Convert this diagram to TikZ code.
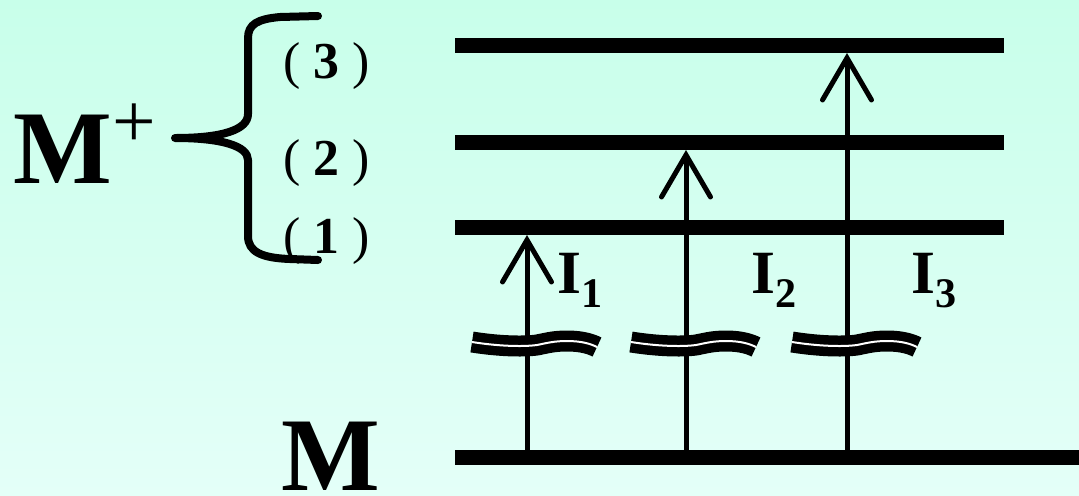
\documentclass[tikz,border=0pt]{standalone}
\usepackage{fontspec}
\setmainfont{Liberation Serif}
\usetikzlibrary{arrows.meta}
\definecolor{bgtop}{RGB}{200,255,234}
\definecolor{bgbottom}{RGB}{228,255,248}

\begin{document}
\begin{tikzpicture}[x=0.02cm, y=-0.02cm]
        % Define styles
        \tikzstyle{level} = [line width=0.3cm]
        \tikzstyle{arrow} = [line width=0.1cm, -{Straight Barb[length=0.84cm, width=0.98cm, line cap=round]}]
        \tikzstyle{brk} = [line width=0.19cm, double=white, double distance=0.04cm]
        \tikzstyle{brace} = [line width=0.16cm, line cap=round, line join=round]
        \tikzstyle{lbl} = [inner sep=0pt, anchor=base west]

        % Background
        \useasboundingbox (0,0) rectangle (1079,495);
        \shade [top color=bgtop, bottom color=bgbottom] (0,0) rectangle (1079,495);

        % Levels
        \coordinate (l3w) at (455,45);  \coordinate (l3e) at (1004,45);
        \coordinate (l2w) at (455,142); \coordinate (l2e) at (1004,142);
        \coordinate (l1w) at (455,227); \coordinate (l1e) at (1004,227);
        \coordinate (l0w) at (455,457); \coordinate (l0e) at (1079,457);
        \draw [level] (l3w) -- (l3e);
        \draw [level] (l2w) -- (l2e);
        \draw [level] (l1w) -- (l1e);
        \draw [level] (l0w) -- (l0e);

        % Nodes
        \node (mplus) [lbl] at (13,183) {\fontsize{59.5}{60}\selectfont\bfseries M\raisebox{20pt}{\fontsize{44}{44}\selectfont\mdseries +}};
        \node (mground) [lbl] at (281,490) {\fontsize{59.5}{60}\selectfont\bfseries M};
        \node (p3) [lbl] at (283,78) {\fontsize{29.5}{30}\selectfont ( {\bfseries 3} )};
        \node (p2) [lbl] at (283,175) {\fontsize{29.5}{30}\selectfont ( {\bfseries 2} )};
        \node (p1) [lbl] at (283,253) {\fontsize{29.5}{30}\selectfont ( {\bfseries 1} )};
        \node (i1) [lbl] at (557,293) {\fontsize{35}{35}\selectfont\bfseries I\raisebox{-8.5pt}{\fontsize{24}{24}\selectfont 1}};
        \node (i2) [lbl] at (751,293) {\fontsize{35}{35}\selectfont\bfseries I\raisebox{-8.5pt}{\fontsize{24}{24}\selectfont 2}};
        \node (i3) [lbl] at (911,293) {\fontsize{35}{35}\selectfont\bfseries I\raisebox{-8.5pt}{\fontsize{24}{24}\selectfont 3}};

        % Brace
        \draw [brace] (318,16) -- (280,17) .. controls (258,19) and (248,24) .. (248,38) -- (248,114)
                .. controls (248,130) and (222,138) .. (175,138)
                .. controls (222,138) and (248,146) .. (248,160) -- (248,236)
                .. controls (248,252) and (262,258) .. (290,259) -- (318,260);

        % Arrows
        \coordinate (g1) at (527,457); \coordinate (t1) at (527,235);
        \coordinate (g2) at (686,457); \coordinate (t2) at (686,150);
        \coordinate (g3) at (847,457); \coordinate (t3) at (847,53);
        \draw [arrow] (g1) -- (t1);
        \draw [arrow] (g2) -- (t2);
        \draw [arrow] (g3) -- (t3);

        % Breaks
        \foreach \x in {527,686,847}
                \draw [brk, shift={(\x,0)}] (-55,342) .. controls (-30,346) and (-5,347) .. (10,345)
                        .. controls (20,343) and (27,341) .. (40,341) .. controls (55,341) and (64,344) .. (70,347);
\end{tikzpicture}
\end{document}
